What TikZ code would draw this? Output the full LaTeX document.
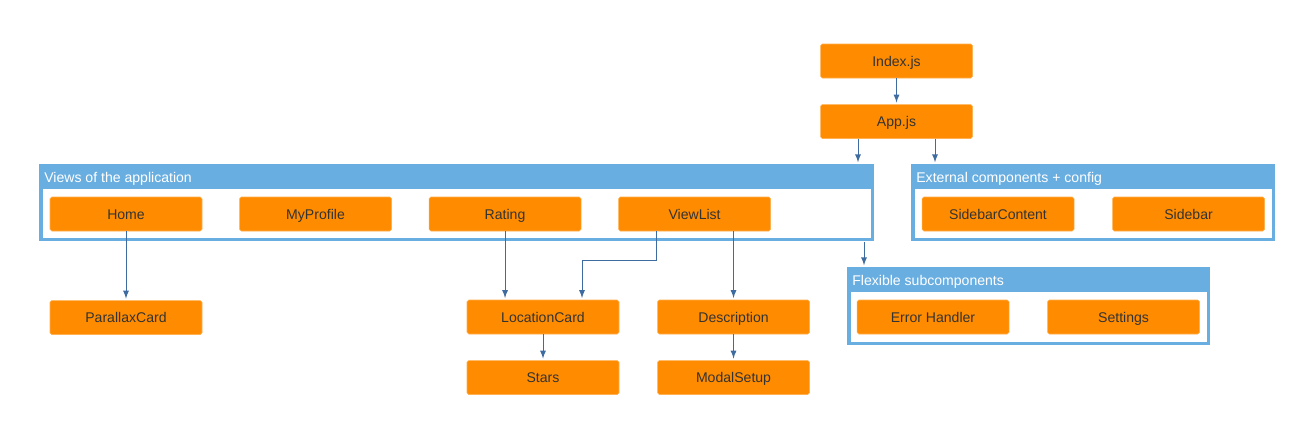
\documentclass[tikz,border=0pt]{standalone}
\usepackage{fontspec}
\setmainfont{Liberation Sans}
\usepackage{tikz}
\usetikzlibrary{calc,positioning}
\definecolor{comporange}{RGB}{255,140,0}
\definecolor{groupblue}{RGB}{105,174,225}
\definecolor{linkblue}{RGB}{62,108,160}
\definecolor{comptext}{RGB}{51,51,51}
\tikzstyle{comp} = [rectangle, fill=comporange, draw=comporange!70!white, line width=0.3pt, rounded corners=1pt, minimum width=3.04cm, minimum height=0.68cm, text=comptext, font=\fontsize{8}{9.6}\selectfont, inner sep=0pt, text height=7.4pt, text depth=1.6pt]
\tikzstyle{group} = [rectangle, fill=groupblue, minimum height=1.54cm, anchor=north west, inner sep=0pt]
\tikzstyle{grouptitle} = [anchor=base west, text=white, font=\fontsize{8}{9.6}\selectfont, inner sep=0pt]
\tikzstyle{link} = [->, >=latex, draw=linkblue, line width=0.55pt, shorten >=1pt]

\begin{document}
\begin{tikzpicture}
      \pgfmathsetmacro{\Aoff}{0.77};
      \useasboundingbox (0,0) rectangle (26.28,-8.6);
      % groups
      \node[group, minimum width=16.7cm] (Views) at (0.78,-3.28) {};
      \node[group, minimum width=7.28cm] (External) at (18.22,-3.28) {};
      \node[group, minimum width=7.26cm, minimum height=1.56cm] (Flexible) at (16.94,-5.34) {};
      \foreach \g in {Views,External,Flexible}
        \fill[white] ($(\g.south west)+(0.08,0.08)$) rectangle ($(\g.north east)+(-0.08,-0.5)$);
      \node[grouptitle] (ViewsTitle) at ($(Views.north west)+(0.1,-0.36)$) {Views of the application};
      \node[grouptitle] (ExternalTitle) at ($(External.north west)+(0.1,-0.36)$) {External components + config};
      \node[grouptitle] (FlexibleTitle) at ($(Flexible.north west)+(0.1,-0.36)$) {Flexible subcomponents};
      %
      \node[comp] (Index) at (17.93,-1.22) {Index.js};
      \node[comp,below=0.52cm of Index] (App) {App.js};
      %
      \node[comp] (Home) at (2.52,-4.28) {Home};
      \node[comp,right=0.74cm of Home] (MyProfile) {MyProfile};
      \node[comp,right=0.74cm of MyProfile] (Rating) {Rating};
      \node[comp,right=0.74cm of Rating] (ViewList) {ViewList};
      \node[comp,below=1.38cm of Home] (ParallaxCard) {ParallaxCard};
      \node[comp] (LocationCard) at (10.86,-6.34) {LocationCard};
      \node[comp,below=0.52cm of LocationCard] (Stars) {Stars};
      \node[comp,right=0.76cm of LocationCard] (Description) {Description};
      \node[comp,below=0.52cm of Description] (ModalSetup) {ModalSetup};
      %
      \node[comp] (SidebarContent) at (19.96,-4.28) {SidebarContent};
      \node[comp,right=0.76cm of SidebarContent] (Sidebar) {Sidebar};
      \node[comp] (ErrorHandler) at (18.66,-6.34) {Error Handler};
      \node[comp,right=0.76cm of ErrorHandler] (Settings) {Settings};
      %
      \draw[link] (Index) -- (App);
      \draw[link] ([xshift=-\Aoff cm]App.south) -- ([xshift=-\Aoff cm]App.south |- Views.north);
      \draw[link] ([xshift=\Aoff cm]App.south) -- ([xshift=\Aoff cm]App.south |- External.north);
      \draw[link] ([xshift=0.34cm]Flexible.north west |- Views.south) -- ([xshift=0.34cm]Flexible.north west);
      \draw[link] (Home) -- (ParallaxCard);
      \draw[link] (Rating.south) -- (Rating.south |- LocationCard.north);
      \draw[link] ([xshift=-0.76cm]ViewList.south) -- ++(0,-0.58) -| ([xshift=0.78cm]LocationCard.north);
      \draw[link] (Description.north |- ViewList.south) -- (Description);
      \draw[link] (LocationCard) -- (Stars);
      \draw[link] (Description) -- (ModalSetup);
    \end{tikzpicture}
\end{document}
